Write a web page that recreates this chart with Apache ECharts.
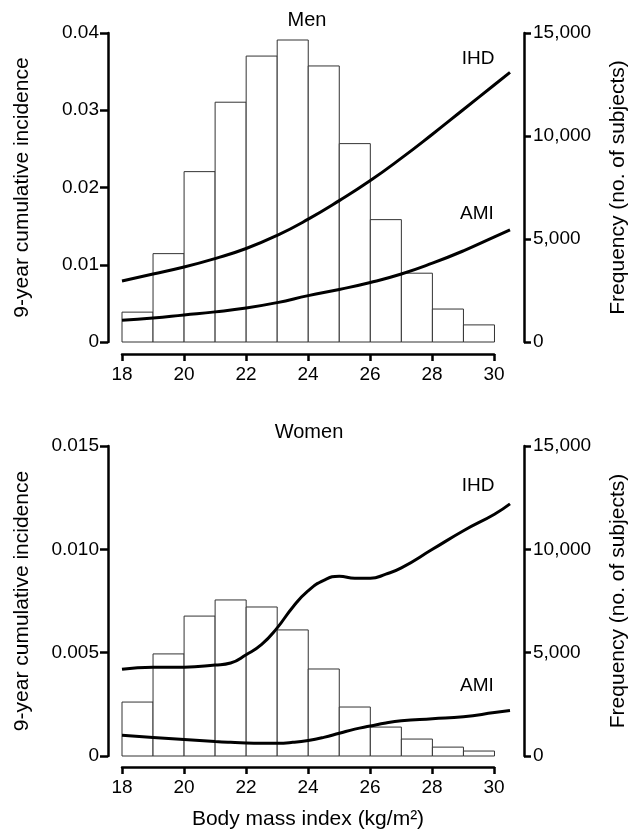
<!DOCTYPE html>
<html>
<head>
<meta charset="utf-8">
<title>BMI and 9-year cumulative incidence</title>
<script src="https://cdn.jsdelivr.net/npm/echarts@6/dist/echarts.min.js"></script>
<style>
  html, body { margin: 0; padding: 0; background: #fff; }
  #chart { width: 629px; height: 840px; }
</style>
</head>
<body>
<div id="chart"></div>
<script>
// histogram bins (BMI, width 1)
var binStarts = [18, 19, 20, 21, 22, 23, 24, 25, 26, 27, 28, 29];
var menFreq = [1450, 4290, 8270, 11640, 13880, 14660, 13400, 9630, 5940, 3340, 1600, 830];
var womenFreq = [2610, 4940, 6770, 7550, 7210, 6100, 4210, 2370, 1400, 820, 430, 240];

// smoothed incidence curves
var menCurveBmi = [18, 19, 20, 21, 22, 23, 24, 25, 26, 27, 28, 29, 30, 30.5];
var menIHD = [0.0079, 0.0088, 0.0097, 0.0108, 0.0121, 0.0138, 0.0159, 0.0183, 0.0209, 0.0238, 0.0269, 0.0301, 0.0333, 0.0349];
var menAMI = [0.0028, 0.0031, 0.0035, 0.0039, 0.0044, 0.0051, 0.0060, 0.0068, 0.0077, 0.0088, 0.0102, 0.0118, 0.0136, 0.0145];

var womenCurveBmi = [18, 19, 20, 21, 21.5, 22, 22.5, 23, 23.5, 24, 24.5, 25, 25.5, 26, 26.5, 27, 28, 29, 30, 30.5];
var womenIHD = [0.0042, 0.0043, 0.0043, 0.0044, 0.0045, 0.0049, 0.0054, 0.0062, 0.0072, 0.0080, 0.0085, 0.0087, 0.0086, 0.0086, 0.0088, 0.0091, 0.0100, 0.0109, 0.0117, 0.0122];
var womenAMI = [0.0010, 0.0009, 0.0008, 0.0007, 0.00066, 0.00063, 0.00062, 0.00062, 0.00066, 0.00075, 0.0009, 0.0011, 0.0013, 0.00145, 0.0016, 0.0017, 0.0018, 0.0019, 0.0021, 0.0022];

var bmiTicks = [18, 20, 22, 24, 26, 28, 30];

var FONT = '"Liberation Sans", Arial, Helvetica, sans-serif';

function zip(xs, ys) {
  return xs.map(function (x, i) { return [x, ys[i]]; });
}

function binData(freq) {
  return binStarts.map(function (s, i) { return [s, s + 1, freq[i]]; });
}

function renderBin(params, api) {
  var p0 = api.coord([api.value(0), 0]);
  var p1 = api.coord([api.value(1), api.value(2)]);
  return {
    type: 'rect',
    shape: { x: p0[0], y: p1[1], width: p1[0] - p0[0], height: p0[1] - p1[1] },
    style: { fill: '#fff', stroke: '#333', lineWidth: 1 }
  };
}

var axisLineStyle = { color: '#000', width: 2.5 };

// data x axis (hidden): curves run a little past 30
function dataXAxis(i) {
  return { gridIndex: i, type: 'value', min: 18, max: 30.5, show: false };
}

// visible BMI axis, 18..30, sits in its own thin grid below the plot
function shownXAxis(i, withName) {
  return {
    gridIndex: i,
    type: 'value',
    min: 18,
    max: 30,
    interval: 2,
    name: withName ? 'Body mass index (kg/m²)' : '',
    nameLocation: 'middle',
    nameGap: 42,
    nameTextStyle: { color: '#000', fontSize: 21, fontFamily: FONT },
    axisLine: { lineStyle: axisLineStyle },
    axisTick: { length: 7, lineStyle: axisLineStyle },
    axisLabel: {
      color: '#000', fontSize: 19, fontFamily: FONT, margin: 11,
      customValues: bmiTicks
    },
    splitLine: { show: false }
  };
}

function leftAxisFor(i, max, interval, digits) {
  return {
    gridIndex: i,
    type: 'value',
    position: 'left',
    offset: 14,
    min: 0,
    max: max,
    interval: interval,
    name: '9-year cumulative incidence',
    nameLocation: 'middle',
    nameGap: 75,
    nameTextStyle: { color: '#000', fontSize: 21, fontFamily: FONT },
    axisLine: { show: true, lineStyle: axisLineStyle },
    axisTick: { show: true, length: 8, lineStyle: axisLineStyle },
    axisLabel: {
      color: '#000', fontSize: 19, fontFamily: FONT, margin: 9,
      formatter: function (v) { return v === 0 ? '0' : v.toFixed(digits); }
    },
    splitLine: { show: false }
  };
}

function rightAxisFor(i) {
  return {
    gridIndex: i,
    type: 'value',
    position: 'right',
    offset: 14,
    min: 0,
    max: 15000,
    interval: 5000,
    name: 'Frequency (no. of subjects)',
    nameLocation: 'middle',
    nameGap: 84,
    nameTextStyle: { color: '#000', fontSize: 21, fontFamily: FONT },
    axisLine: { show: true, lineStyle: axisLineStyle },
    axisTick: { show: true, length: 7, lineStyle: axisLineStyle },
    axisLabel: {
      color: '#000', fontSize: 19, fontFamily: FONT, margin: 9,
      formatter: function (v) { return v.toLocaleString('en-US'); }
    },
    splitLine: { show: false }
  };
}

function hiddenYAxis(i) {
  return { gridIndex: i, type: 'value', min: 0, max: 1, show: false };
}

function curve(xIdx, yIdx, xs, ys) {
  return {
    type: 'line',
    xAxisIndex: xIdx,
    yAxisIndex: yIdx,
    data: zip(xs, ys),
    smooth: 0.5,
    showSymbol: false,
    silent: true,
    z: 5,
    lineStyle: { color: '#000', width: 3 }
  };
}

function histogram(xIdx, yIdx, freq) {
  return {
    type: 'custom',
    xAxisIndex: xIdx,
    yAxisIndex: yIdx,
    data: binData(freq),
    encode: { x: [0, 1], y: 2 },
    renderItem: renderBin,
    silent: true,
    z: 2
  };
}

function label(text, x, y, size) {
  return {
    type: 'text',
    x: x,
    y: y,
    style: {
      text: text,
      fill: '#000',
      fontSize: size,
      fontFamily: FONT,
      align: 'center',
      verticalAlign: 'middle',
      textAlign: 'center',
      textVerticalAlign: 'middle'
    }
  };
}

var chart = echarts.init(document.getElementById('chart'), null, { renderer: 'canvas' });

var option = {
  backgroundColor: '#fff',
  animation: false,
  textStyle: { fontFamily: FONT },
  grid: [
    { left: 122, right: 119, top: 33, height: 309, containLabel: false, outerBoundsMode: 'none' },
    { left: 122, right: 119, top: 446, height: 310, containLabel: false, outerBoundsMode: 'none' },
    { left: 122, right: 135, top: 353, height: 1, containLabel: false, outerBoundsMode: 'none' },
    { left: 122, right: 135, top: 766, height: 1, containLabel: false, outerBoundsMode: 'none' }
  ],
  xAxis: [dataXAxis(0), dataXAxis(1), shownXAxis(2, false), shownXAxis(3, true)],
  yAxis: [
    leftAxisFor(0, 0.04, 0.01, 2),
    rightAxisFor(0),
    leftAxisFor(1, 0.015, 0.005, 3),
    rightAxisFor(1),
    hiddenYAxis(2),
    hiddenYAxis(3)
  ],
  series: [
    histogram(0, 1, menFreq),
    curve(0, 0, menCurveBmi, menIHD),
    curve(0, 0, menCurveBmi, menAMI),
    histogram(1, 3, womenFreq),
    curve(1, 2, womenCurveBmi, womenIHD),
    curve(1, 2, womenCurveBmi, womenAMI)
  ],
  graphic: [
    label('Men', 307, 20, 20),
    label('Women', 309, 432, 20),
    label('IHD', 478, 59, 19),
    label('AMI', 477, 214, 19),
    label('IHD', 478, 486, 19),
    label('AMI', 477, 686, 19)
  ]
};

chart.setOption(option);
</script>
</body>
</html>
